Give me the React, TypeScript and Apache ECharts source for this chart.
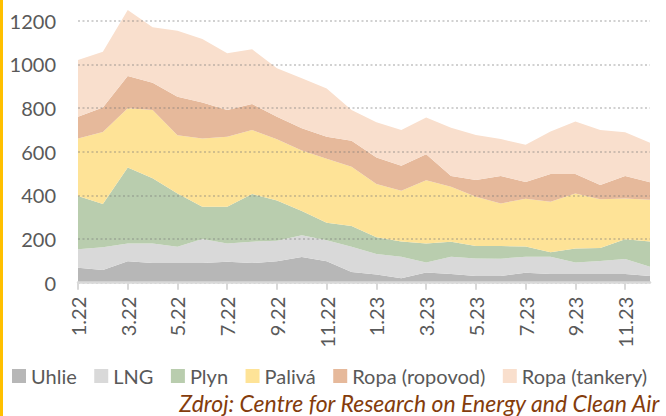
import React, { useEffect, useRef } from "react";
import * as echarts from "echarts";

const categories = [
  "1.22", "2.22", "3.22", "4.22", "5.22", "6.22", "7.22", "8.22", "9.22", "10.22", "11.22", "12.22",
  "1.23", "2.23", "3.23", "4.23", "5.23", "6.23", "7.23", "8.23", "9.23", "10.23", "11.23", "12.23",
];

const uhlie = [69, 58, 98, 90, 90, 90, 96, 90, 98, 118, 98, 49, 38, 20, 47, 40, 31, 31, 46, 40, 40, 40, 40, 31];
const lng = [84, 104, 82, 90, 75, 110, 84, 98, 94, 99, 97, 116, 93, 99, 45, 79, 80, 79, 73, 79, 52, 59, 68, 42];
const plyn = [244, 198, 348, 298, 244, 148, 168, 218, 184, 111, 80, 95, 77, 70, 88, 69, 57, 58, 47, 21, 65, 60, 91, 116];
const paliva = [264, 330, 271, 313, 266, 312, 321, 293, 281, 277, 293, 271, 244, 232, 289, 252, 226, 195, 219, 231, 252, 223, 187, 191];
const ropovod = [99, 112, 148, 125, 177, 165, 122, 119, 103, 102, 101, 119, 121, 115, 119, 49, 76, 126, 76, 127, 89, 65, 103, 80];
const tankery = [260, 256, 302, 254, 302, 291, 260, 251, 222, 229, 220, 141, 162, 163, 169, 221, 206, 169, 171, 194, 240, 252, 200, 181];

const seriesNames = ["Uhlie", "LNG", "Plyn", "Palivá", "Ropa (ropovod)", "Ropa (tankery)"];
const seriesColors = ["#b7b7b7", "#d9d9d9", "#b9cdae", "#fee397", "#e6b99b", "#f9dfcd"];
const seriesData = [uhlie, lng, plyn, paliva, ropovod, tankery];
const sourceText = "Zdroj: Centre for Research on Energy and Clean Air";

const FONT = "Lato, 'Open Sans', sans-serif";

export default function App() {
  const ref = useRef<HTMLDivElement>(null);

  useEffect(() => {
    if (!ref.current) return;
    const chart = echarts.init(ref.current, undefined, { renderer: "svg" });
    chart.setOption({
      animation: false,
      backgroundColor: "#ffffff",
      grid: { left: 78, right: 16, top: 20.7, bottom: 133.3, containLabel: false },
      legend: {
        data: seriesNames,
        left: 12,
        top: 366,
        padding: 0,
        icon: "rect",
        itemWidth: 14,
        itemHeight: 14,
        itemGap: 17.5,
        textStyle: { fontFamily: FONT, fontSize: 20, lineHeight: 18, color: "#595959" },
      },
      xAxis: {
        type: "category",
        data: categories,
        boundaryGap: false,
        z: 4,
        axisLine: { show: true, lineStyle: { color: "#d9d9d9", width: 2.5 } },
        axisTick: { show: true, interval: 1, length: 7, lineStyle: { color: "#d9d9d9", width: 2 } },
        axisLabel: {
          interval: 1,
          rotate: 90,
          margin: 14,
          fontFamily: FONT,
          fontSize: 20,
          color: "#595959",
        },
        splitLine: { show: false },
      },
      yAxis: {
        type: "value",
        min: 0,
        max: 1200,
        interval: 200,
        z: 3,
        axisLine: { show: false },
        axisTick: { show: false },
        axisLabel: {
          margin: 22,
          fontFamily: FONT,
          fontSize: 20,
          color: "#595959",
          formatter: (v: number) => String(v),
        },
        splitLine: { show: true, lineStyle: { color: "rgba(120,120,120,0.45)", width: 1.5, type: [2, 2.5] } },
      },
      series: seriesNames.map((name, i) => ({
        name,
        type: "line",
        stack: "total",
        data: seriesData[i],
        symbol: "none",
        showSymbol: false,
        clip: false,
        lineStyle: { width: 0, opacity: 0 },
        itemStyle: { color: seriesColors[i] },
        areaStyle: { color: seriesColors[i], opacity: 1 },
        z: 2,
      })),
      graphic: [
        {
          type: "rect",
          left: 0,
          top: 0,
          shape: { width: 3, height: 416 },
          style: { fill: "#ffc000" },
        },
        {
          type: "text",
          right: 5,
          top: 391,
          style: {
            text: sourceText,
            fill: "#843c0c",
            font: "italic 23px Lato, 'Open Sans', sans-serif",
            lineHeight: 24,
          },
        },
      ],
    });
    return () => chart.dispose();
  }, []);

  return (
    <div
      ref={ref}
      style={{ position: "fixed", left: 0, top: 0, width: 666, height: 416, background: "#fff" }}
    />
  );
}
